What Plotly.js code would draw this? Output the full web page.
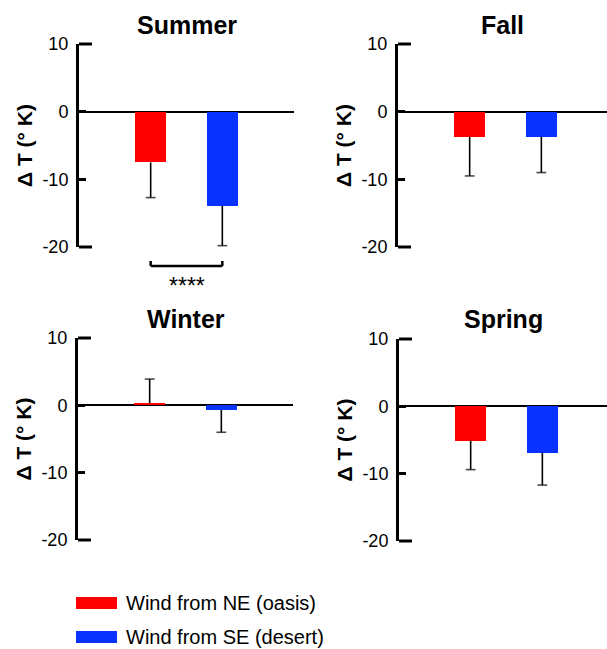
<!DOCTYPE html>
<html>
<head>
<meta charset="utf-8">
<script src="https://cdn.plot.ly/plotly-3.0.1.min.js"></script>
<style>html,body{margin:0;padding:0;background:#fff;}#chart{width:607px;height:649px;}</style>
</head>
<body>
<div id="chart"></div>
<script>
// ---- data ----
const seasons = ['Summer', 'Fall', 'Winter', 'Spring'];
const categories = ['Wind from NE (oasis)', 'Wind from SE (desert)'];
const meanNE = [-7.5, -3.7, 0.3, -5.1];
const meanSE = [-13.9, -3.7, -0.7, -6.9];
const errNE = [5.2, 5.8, 3.6, 4.3];
const errSE = [5.9, 5.3, 3.3, 4.8];
const yTicks = [10, 0, -10, -20];
const yTitle = 'Δ T (° K)';
const sigLabel = '****';

const colors = ['#ff0000', '#0a32ff'];
const FONT = 'Liberation Sans, Arial, Helvetica, sans-serif';

// panel geometry (pixels)
const W = 607, H = 649;
const panels = [
  {x0: 79, x1: 294, y0: 44, y1: 247, xr: [-1, 2]},
  {x0: 398, x1: 607, y0: 44, y1: 247, xr: [-1, 1.916]},
  {x0: 78, x1: 293, y0: 338, y1: 540, xr: [-1, 2]},
  {x0: 399, x1: 607, y0: 339, y1: 541, xr: [-1, 1.902]}
];

const traces = [];
const layout = {
  width: W, height: H,
  margin: {l: 0, r: 0, t: 0, b: 0},
  paper_bgcolor: '#fff', plot_bgcolor: 'rgba(0,0,0,0)',
  showlegend: false,
  bargap: 0, barmode: 'group',
  font: {family: FONT, color: '#000'},
  annotations: [], shapes: []
};

seasons.forEach((s, i) => {
  const n = i + 1;
  const xa = 'x' + (n === 1 ? '' : n), ya = 'y' + (n === 1 ? '' : n);
  const p = panels[i];
  const means = [meanNE[i], meanSE[i]];
  const errs = [errNE[i], errSE[i]];
  categories.forEach((c, k) => {
    traces.push({
      type: 'bar', x: [c], y: [means[k]], width: 0.43,
      marker: {color: colors[k], line: {width: 0}},
      xaxis: xa, yaxis: ya, hoverinfo: 'skip'
    });
  });
  // one-sided error bars (away from zero)
  categories.forEach((c, k) => {
    const sgn = means[k] >= 0 ? 1 : -1;
    traces.push({
      type: 'scatter', mode: 'lines+markers',
      x: [c, c], y: [means[k], means[k] + sgn * errs[k]],
      line: {color: '#000', width: 1.6},
      marker: {symbol: 'line-ew', size: [0, 7], color: '#000', line: {color: '#000', width: 1.6}},
      xaxis: xa, yaxis: ya, hoverinfo: 'skip', cliponaxis: false
    });
  });
  layout['xaxis' + (n === 1 ? '' : n)] = {
    domain: [p.x0 / W, p.x1 / W], range: p.xr, type: 'category',
    categoryorder: 'array', categoryarray: categories,
    showticklabels: false, ticks: '', showgrid: false, zeroline: false,
    showline: false, anchor: ya, fixedrange: true
  };
  layout['yaxis' + (n === 1 ? '' : n)] = {
    domain: [1 - p.y1 / H, 1 - p.y0 / H], range: [-20, 10],
    tickvals: yTicks, ticktext: yTicks.map(String),
    ticks: 'inside', ticklen: 7, tickwidth: 2.5, tickcolor: '#000',
    showline: true, linewidth: 3, linecolor: '#000',
    showgrid: false, zeroline: true, zerolinewidth: 2, zerolinecolor: '#000',
    tickfont: {size: 18, family: FONT, color: '#000'},
    ticklabelstandoff: 4,
    title: {text: yTitle, font: {size: 21, family: FONT, color: '#000', weight: 'bold'}, standoff: 5},
    anchor: xa, fixedrange: true
  };
  // longer end caps at top and bottom of y axis
  [1, 0].forEach(yy => {
    layout.shapes.push({
      type: 'line', xref: xa + ' domain', yref: ya + ' domain',
      x0: 0, x1: 13 / (p.x1 - p.x0), y0: yy, y1: yy,
      line: {color: '#000', width: 3}
    });
  });
  // panel title
  layout.annotations.push({
    text: '<b>' + s + '</b>', xref: xa + ' domain', yref: 'paper',
    x: 0.5, y: 1 - (i < 2 ? 25 : 319) / H, xanchor: 'center', yanchor: 'middle',
    showarrow: false, font: {size: 25, family: FONT, color: '#000'}
  });
});

// significance bracket in Summer panel
const by = 1 - 266 / H, bEnd = 1 - 261 / H;
layout.shapes.push(
  {type: 'line', xref: 'x', yref: 'paper', x0: categories[0], x1: categories[1], y0: by, y1: by, line: {color: '#000', width: 2.5}},
  {type: 'line', xref: 'x', yref: 'paper', x0: categories[0], x1: categories[0], y0: by, y1: bEnd, line: {color: '#000', width: 2.5}},
  {type: 'line', xref: 'x', yref: 'paper', x0: categories[1], x1: categories[1], y0: by, y1: bEnd, line: {color: '#000', width: 2.5}}
);
layout.annotations.push({
  text: sigLabel, xref: 'x domain', yref: 'paper', x: 0.5, y: 1 - 286 / H,
  xanchor: 'center', yanchor: 'middle', showarrow: false,
  font: {size: 23, family: FONT, color: '#000'}
});

// manual legend
categories.forEach((c, k) => {
  const yc = [603, 637][k];
  layout.shapes.push({
    type: 'rect', xref: 'paper', yref: 'paper',
    x0: 76 / W, x1: 117 / W, y0: 1 - (yc + 6) / H, y1: 1 - (yc - 6) / H,
    fillcolor: colors[k], line: {width: 0}
  });
  layout.annotations.push({
    text: c, xref: 'paper', yref: 'paper', x: 124 / W, y: 1 - yc / H,
    xanchor: 'left', yanchor: 'middle', showarrow: false,
    font: {size: 20, family: FONT, color: '#000'}
  });
});

Plotly.newPlot('chart', traces, layout, {displayModeBar: false, staticPlot: true});
</script>
</body>
</html>
